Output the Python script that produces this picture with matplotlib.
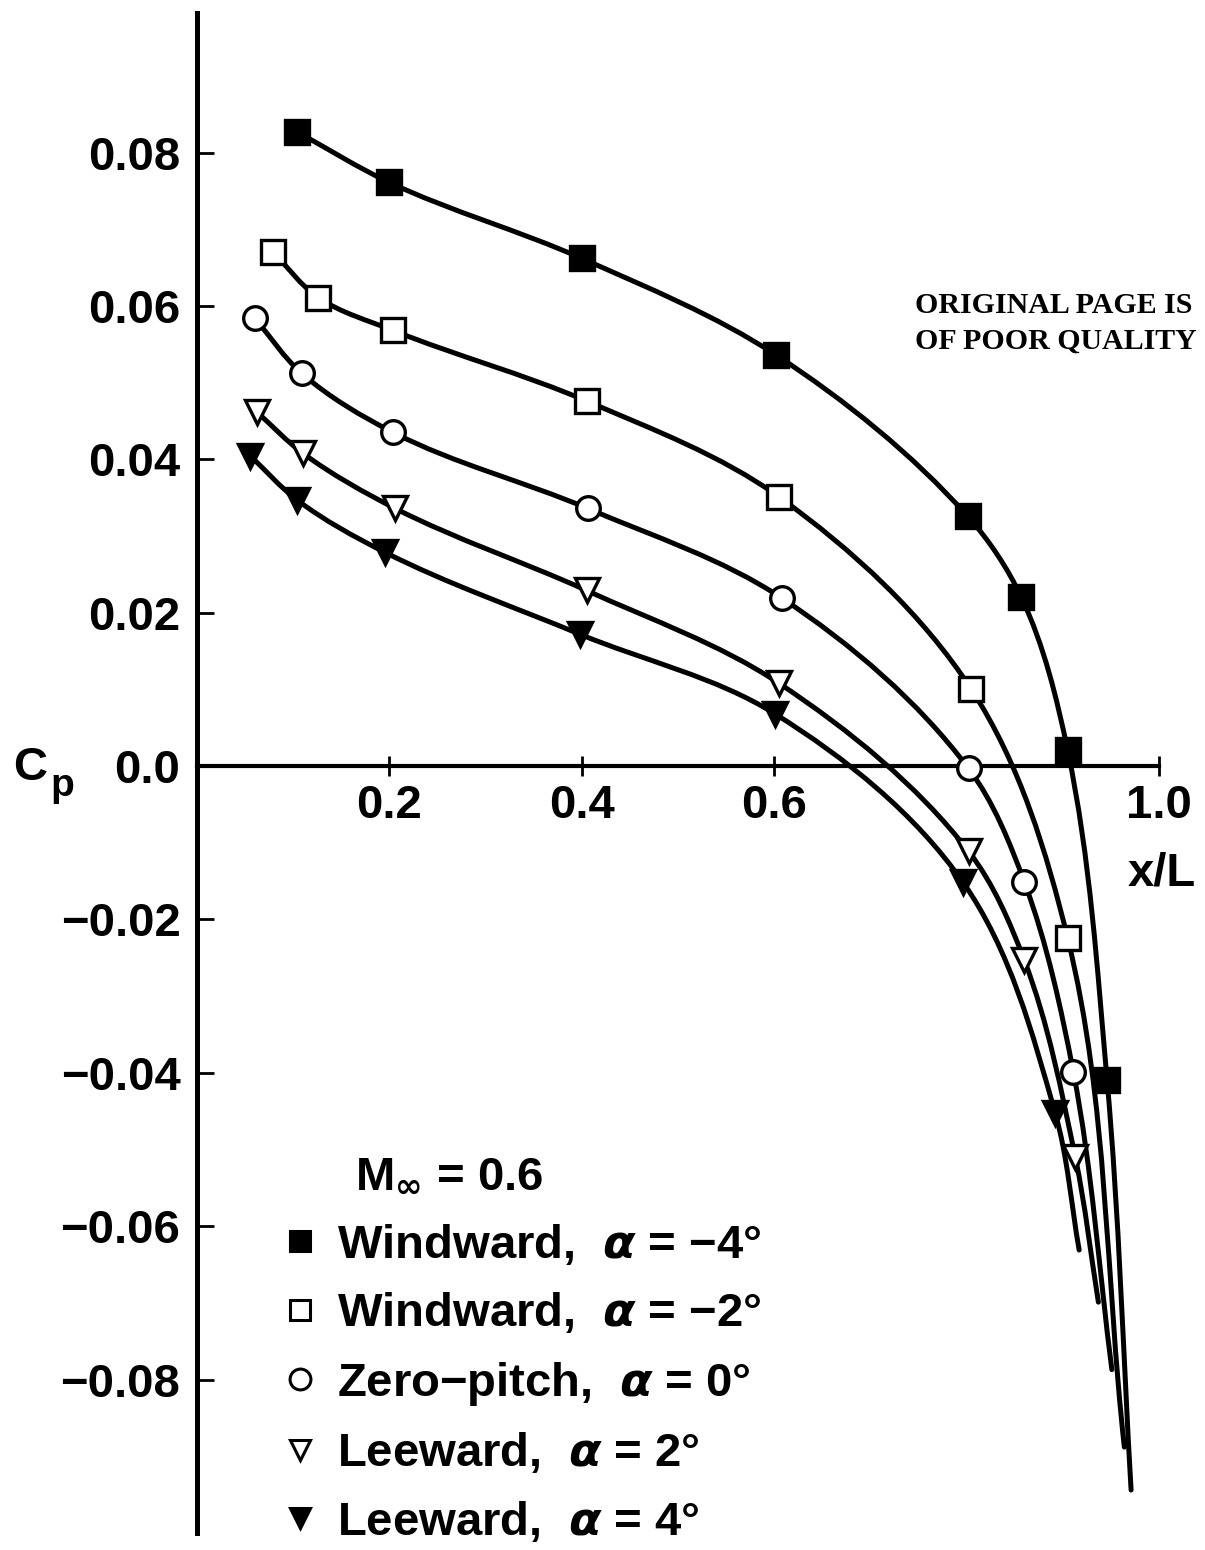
import numpy as np
import matplotlib
matplotlib.use('Agg')
import matplotlib.pyplot as plt
from matplotlib.path import Path
from matplotlib.patches import PathPatch
from matplotlib.lines import Line2D

plt.rcParams['font.family'] = ['Liberation Sans', 'DejaVu Sans']
plt.rcParams['font.weight'] = 'bold'

# measured points (x/L, Cp) and the end of each faired curve
x_w4 = [0.104, 0.200, 0.400, 0.602, 0.801, 0.857, 0.905, 0.946]
cp_w4 = [0.0827, 0.0761, 0.0662, 0.0536, 0.0326, 0.0220, 0.0021, -0.0409]
end_w4 = (0.971, -0.0944)

x_w2 = [0.079, 0.126, 0.204, 0.405, 0.605, 0.805, 0.905]
cp_w2 = [0.0670, 0.0611, 0.0568, 0.0476, 0.0351, 0.0100, -0.0224]
end_w2 = (0.964, -0.0888)

x_z0 = [0.060, 0.109, 0.204, 0.406, 0.608, 0.802, 0.860, 0.911]
cp_z0 = [0.0584, 0.0512, 0.0435, 0.0336, 0.0219, -0.0003, -0.0151, -0.0399]
end_z0 = (0.951, -0.0787)

x_l2 = [0.062, 0.110, 0.206, 0.405, 0.605, 0.802, 0.860, 0.913]
cp_l2 = [0.0462, 0.0408, 0.0336, 0.0229, 0.0108, -0.0111, -0.0253, -0.0510]
end_l2 = (0.937, -0.0699)

x_l4 = [0.055, 0.104, 0.195, 0.398, 0.601, 0.796, 0.892]
cp_l4 = [0.0405, 0.0347, 0.0279, 0.0172, 0.0068, -0.0151, -0.0452]
end_l4 = (0.917, -0.0631)

labels = [r'Windward,  $\boldsymbol{\alpha}$ = −4°',
          r'Windward,  $\boldsymbol{\alpha}$ = −2°',
          r'Zero−pitch,  $\boldsymbol{\alpha}$ = 0°',
          r'Leeward,  $\boldsymbol{\alpha}$ = 2°',
          r'Leeward,  $\boldsymbol{\alpha}$ = 4°']

yticks = [0.08, 0.06, 0.04, 0.02, 0.0, -0.02, -0.04, -0.06, -0.08]
ytick_labels = ['0.08', '0.06', '0.04', '0.02', '0.0', '−0.02', '−0.04', '−0.06', '−0.08']
xticks = [0.2, 0.4, 0.6, 0.8, 1.0]
xtick_labels = ['0.2', '0.4', '0.6', '', '1.0']

fig = plt.figure(figsize=(12.05, 15.5), dpi=100)
ax = fig.add_axes([197 / 1205, 1 - 1533 / 1550, 962 / 1205, 1520 / 1550])
ax.set_xlim(0, 1.0)
ax.set_ylim(-0.1, 0.0982)


def faired(ax, xs, ys, end, lw=3.6):
    # smooth curve through the points (bezier with bisector tangents, in pixel space)
    pts = np.column_stack([list(xs) + [end[0]], list(ys) + [end[1]]])
    P = ax.transData.transform(pts)
    n = len(P)
    T = np.zeros_like(P)
    for i in range(n):
        if i == 0:
            d = P[1] - P[0]
        elif i == n - 1:
            d = P[-1] - P[-2]
        else:
            a = P[i] - P[i - 1]
            b = P[i + 1] - P[i]
            d = a / np.hypot(*a) + b / np.hypot(*b)
        T[i] = d / np.hypot(*d)
    verts = [P[0]]
    codes = [Path.MOVETO]
    for i in range(n - 1):
        L = np.hypot(*(P[i + 1] - P[i]))
        verts += [P[i] + T[i] * L / 3, P[i + 1] - T[i + 1] * L / 3, P[i + 1]]
        codes += [Path.CURVE4] * 3
    verts = ax.transData.inverted().transform(np.array(verts))
    ax.add_patch(PathPatch(Path(verts, codes), facecolor='none', edgecolor='black',
                           lw=lw, capstyle='round', zorder=2))


series = [(x_w4, cp_w4, end_w4, 's', 'black'),
          (x_w2, cp_w2, end_w2, 's', 'white'),
          (x_z0, cp_z0, end_z0, 'o', 'white'),
          (x_l2, cp_l2, end_l2, 'v', 'white'),
          (x_l4, cp_l4, end_l4, 'v', 'black')]

handles = []
for xs, ys, end, mk, fc in series:
    faired(ax, xs, ys, end)
    ax.plot(xs, ys, linestyle='none', marker=mk, markersize=17, markerfacecolor=fc,
            markeredgecolor='black', markeredgewidth=2.4, zorder=3, clip_on=False)
    handles.append(Line2D([], [], linestyle='none', marker=mk, markersize=15,
                          markerfacecolor=fc, markeredgecolor='black', markeredgewidth=2.2))

# axes in the style of the original figure
for s in ['top', 'right']:
    ax.spines[s].set_visible(False)
ax.spines['left'].set_linewidth(3.6)
ax.spines['bottom'].set_position(('data', 0))
ax.spines['bottom'].set_linewidth(3.0)
ax.spines['bottom'].set_bounds(0, 1.0)

ax.set_yticks(yticks)
ax.set_yticklabels(ytick_labels)
ax.set_xticks(xticks)
ax.set_xticklabels(xtick_labels)
ax.tick_params(axis='y', direction='in', length=12, width=2, pad=12, labelsize=34)
ax.tick_params(axis='x', direction='inout', length=14, width=2, pad=6, labelsize=34)

ax.annotate('x/L', xy=(1162, 1550 - 873), xycoords='figure pixels', fontsize=34,
            ha='center', va='center')
ax.annotate('C', xy=(13, 1550 - 768), xycoords='figure pixels', fontsize=34,
            ha='left', va='center')
ax.annotate('p', xy=(50, 1550 - 786), xycoords='figure pixels', fontsize=28,
            ha='left', va='center')

ax.annotate('ORIGINAL PAGE IS\nOF POOR QUALITY', xy=(915, 1550 - 323), xycoords='figure pixels',
            fontsize=21.5, family='Liberation Serif', weight='bold', ha='left', va='center',
            linespacing=1.4)

ax.annotate(r'M$_{\boldsymbol{\infty}}$ = 0.6', xy=(355, 1550 - 1175), xycoords='figure pixels',
            fontsize=34, ha='left', va='center')

ax.legend(handles, labels, loc='lower left', bbox_to_anchor=(276 / 1205, 5 / 1550),
          bbox_transform=fig.transFigure, frameon=False, fontsize=34, borderpad=0,
          borderaxespad=0, handlelength=1.0, handletextpad=0.3, labelspacing=0.5)

fig.savefig('out.png', dpi=100)
